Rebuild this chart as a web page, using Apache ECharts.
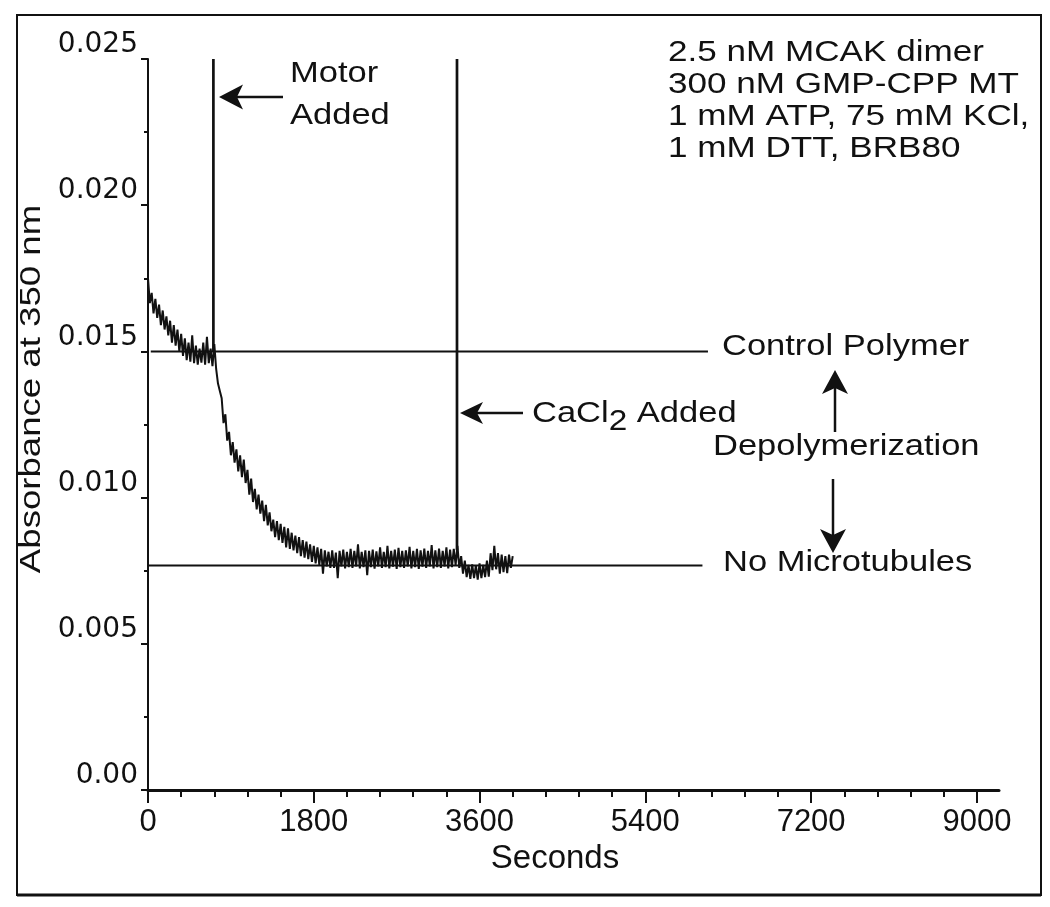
<!DOCTYPE html>
<html><head><meta charset="utf-8">
<script src="https://cdn.jsdelivr.net/npm/echarts@6/dist/echarts.min.js"></script>
<style>html,body{margin:0;padding:0;background:#fff}#c{width:1050px;height:907px}</style>
</head><body><div id="c"></div>
<script>
// ---- data ----
const times = [0,20,40,60,80,100,120,140,160,180,200,220,240,260,280,300,320,340,360,380,400,420,440,460,480,500,520,540,560,580,600,620,640,660,680,700,720,740,760,780,800,820,840,860,880,900,920,940,960,980,1000,1020,1040,1060,1080,1100,1120,1140,1160,1180,1200,1220,1240,1260,1280,1300,1320,1340,1360,1380,1400,1420,1440,1460,1480,1500,1520,1540,1560,1580,1600,1620,1640,1660,1680,1700,1720,1740,1760,1780,1800,1820,1840,1860,1880,1900,1920,1940,1960,1980,2000,2020,2040,2060,2080,2100,2120,2140,2160,2180,2200,2220,2240,2260,2280,2300,2320,2340,2360,2380,2400,2420,2440,2460,2480,2500,2520,2540,2560,2580,2600,2620,2640,2660,2680,2700,2720,2740,2760,2780,2800,2820,2840,2860,2880,2900,2920,2940,2960,2980,3000,3020,3040,3060,3080,3100,3120,3140,3160,3180,3200,3220,3240,3260,3280,3300,3320,3340,3360,3380,3400,3420,3440,3460,3480,3500,3520,3540,3560,3580,3600,3620,3640,3660,3680,3700,3720,3740,3760,3780,3800,3820,3840,3860,3880,3900,3920,3940,3960];
const absorbance = [
0.01750,0.01665,0.01700,0.01630,0.01680,0.01615,0.01660,0.01590,0.01640,0.01575,
0.01620,0.01555,0.01605,0.01530,0.01590,0.01520,0.01575,0.01500,0.01560,0.01485,
0.01545,0.01470,0.01530,0.01465,0.01555,0.01460,0.01520,0.01455,0.01510,0.01462,
0.01530,0.01455,0.01550,0.01460,0.01510,0.01450,0.01525,0.01440,0.01390,0.01365,
0.01340,0.01255,0.01285,0.01195,0.01225,0.01145,0.01190,0.01120,0.01165,0.01090,
0.01145,0.01070,0.01130,0.01050,0.01095,0.01010,0.01065,0.00985,0.01030,0.00960,
0.01010,0.00945,0.00990,0.00920,0.00975,0.00905,0.00950,0.00885,0.00925,0.00865,
0.00920,0.00855,0.00910,0.00845,0.00900,0.00830,0.00895,0.00825,0.00880,0.00820,
0.00870,0.00810,0.00865,0.00800,0.00855,0.00795,0.00850,0.00790,0.00840,0.00780,
0.00835,0.00775,0.00830,0.00770,0.00825,0.00740,0.00820,0.00765,0.00815,0.00760,
0.00820,0.00760,0.00812,0.00725,0.00818,0.00765,0.00822,0.00758,0.00815,0.00762,
0.00825,0.00760,0.00818,0.00765,0.00840,0.00758,0.00815,0.00762,0.00820,0.00735,
0.00818,0.00762,0.00822,0.00757,0.00816,0.00765,0.00830,0.00760,0.00815,0.00762,
0.00835,0.00758,0.00818,0.00764,0.00822,0.00756,0.00828,0.00762,0.00818,0.00760,
0.00820,0.00765,0.00832,0.00758,0.00818,0.00762,0.00825,0.00756,0.00820,0.00764,
0.00826,0.00760,0.00818,0.00765,0.00838,0.00758,0.00820,0.00762,0.00826,0.00760,
0.00818,0.00765,0.00830,0.00758,0.00822,0.00762,0.00825,0.00770,0.00835,0.00760,
0.00800,0.00740,0.00785,0.00728,0.00770,0.00722,0.00772,0.00725,0.00768,0.00720,
0.00775,0.00725,0.00770,0.00728,0.00785,0.00730,0.00810,0.00752,0.00835,0.00755,
0.00810,0.00740,0.00805,0.00745,0.00800,0.00742,0.00805,0.00760,0.00800];
const controlPolymerLine = [[30, 0.0150], [6080, 0.0150]];
const noMicrotubulesLine = [[0, 0.00768], [6020, 0.00768]];
const motorAddedLine = [[710, 0.025], [710, 0.0150]];
const cacl2AddedLine = [[3355, 0.025], [3355, 0.0082]];
const xMajorTicks = [0, 1800, 3600, 5400, 7200, 9000];
const xMinorTicks = [360,720,1080,1440,2160,2520,2880,3240,3960,4320,4680,5040,5760,6120,6480,6840,7560,7920,8280,8640];
const yMajorTicks = [0, 0.005, 0.010, 0.015, 0.020, 0.025];
const yMinorTicks = [0.0025, 0.0075, 0.0125, 0.0175, 0.0225];
const conditionLines = ['2.5 nM MCAK dimer', '300 nM GMP-CPP MT', '1 mM ATP, 75 mM KCl,', '1 mM DTT, BRB80'];

// ---- chart ----
const INK = '#111';
const FONT = '"Liberation Sans", Arial, Helvetica, sans-serif';
const chart = echarts.init(document.getElementById('c'), null, {renderer: 'canvas'});
const trace = times.map((t, i) => [t, absorbance[i]]);
const tickStyle = {color: INK, width: 2};

function txt(text, x, y, size, sx, extra) {
  return Object.assign({type: 'text', x: x, y: y, scaleX: sx, z: 100,
    style: {text: text, fill: INK, fontFamily: FONT, fontSize: size, align: 'left', verticalAlign: 'middle'}}, extra || {});
}
function arrow(tip, back, notch, half, dir, tail) {
  let pts, shaft;
  if (dir === 'left') {
    pts = [[tip[0], tip[1]], [tip[0] + back, tip[1] - half], [tip[0] + notch, tip[1]], [tip[0] + back, tip[1] + half]];
    shaft = [[tip[0] + notch, tip[1]], [tail, tip[1]]];
  } else if (dir === 'up') {
    pts = [[tip[0], tip[1]], [tip[0] - half, tip[1] + back], [tip[0], tip[1] + notch], [tip[0] + half, tip[1] + back]];
    shaft = [[tip[0], tip[1] + notch], [tip[0], tail]];
  } else {
    pts = [[tip[0], tip[1]], [tip[0] - half, tip[1] - back], [tip[0], tip[1] - notch], [tip[0] + half, tip[1] - back]];
    shaft = [[tip[0], tip[1] - notch], [tip[0], tail]];
  }
  return [
    {type: 'polyline', z: 100, shape: {points: shaft}, style: {stroke: INK, lineWidth: 2.5}},
    {type: 'polygon', z: 100, shape: {points: pts}, style: {fill: INK}}
  ];
}

const graphics = [
  {type: 'rect', z: 0, shape: {x: 17, y: 15, width: 1024, height: 880}, style: {fill: 'none', stroke: INK, lineWidth: 2}},
  {type: 'line', z: 0, shape: {x1: 17, y1: 895, x2: 1041, y2: 895}, style: {stroke: INK, lineWidth: 3}},
  txt('Absorbance at 350 nm', 32, 389, 30, 1.22, {rotation: Math.PI / 2,
    style: {text: 'Absorbance at 350 nm', fill: INK, fontFamily: FONT, fontSize: 30, align: 'center', verticalAlign: 'middle'}}),
  txt('Motor', 290, 74, 30, 1.15),
  txt('Added', 290, 116, 30, 1.15),
  {type: 'text', x: 532, y: 414, scaleX: 1.15, z: 100,
    style: {text: 'CaCl{s|2} Added', fill: INK, fontFamily: FONT, fontSize: 30, align: 'left', verticalAlign: 'middle',
      rich: {s: {fill: INK, fontFamily: FONT, fontSize: 29, padding: [16, 0, 0, 0]}}}},
  txt('Control Polymer', 722, 347, 30, 1.15),
  txt('Depolymerization', 713, 447, 30, 1.15),
  txt('No Microtubules', 723, 563, 30, 1.15)
].concat(conditionLines.map((s, i) => txt(s, 668, 53 + i * 32, 29, 1.21)))
 .concat(arrow([219, 97], 24, 18, 12.5, 'left', 283))
 .concat(arrow([460, 413], 23, 17, 11, 'left', 523))
 .concat(arrow([835, 370], 24, 18, 13, 'up', 432))
 .concat(arrow([833, 553], 24, 18, 13, 'down', 479));

const refLine = (name, data, w) => ({type: 'line', name: name, data: data, showSymbol: false, silent: true,
  lineStyle: {color: INK, width: w}, z: 3});

chart.setOption({
  animation: false,
  backgroundColor: '#fff',
  grid: {left: 148, top: 59, width: 851, height: 734, containLabel: false},
  xAxis: [
    {type: 'value', min: 0, max: 9240, position: 'bottom', splitLine: {show: false},
      axisLine: {lineStyle: {color: INK, width: 3}},
      axisTick: {customValues: xMajorTicks, length: 13, lineStyle: tickStyle},
      axisLabel: {customValues: xMajorTicks, color: INK, fontFamily: FONT, fontSize: 31, margin: 14,
        formatter: v => String(v)},
      name: 'Seconds', nameLocation: 'middle', nameGap: 44,
      nameTextStyle: {color: INK, fontFamily: FONT, fontSize: 33, padding: [0, 37, 0, 0]}},
    {type: 'value', min: 0, max: 9240, position: 'bottom', splitLine: {show: false},
      axisLine: {show: false}, axisLabel: {show: false},
      axisTick: {customValues: xMinorTicks, length: 7, lineStyle: tickStyle}}
  ],
  yAxis: [
    {type: 'value', min: -0.0001, max: 0.025, position: 'left', splitLine: {show: false},
      axisLine: {lineStyle: {color: INK, width: 2}},
      axisTick: {customValues: yMajorTicks, length: 7, lineStyle: tickStyle},
      axisLabel: {customValues: yMajorTicks, color: INK, fontFamily: '"DejaVu Sans", sans-serif', fontSize: 28,
        margin: 10, verticalAlign: 'bottom',
        formatter: v => (Math.abs(v) < 1e-9 ? '0.00' : v.toFixed(3))}},
    {type: 'value', min: -0.0001, max: 0.025, position: 'left', splitLine: {show: false},
      axisLine: {show: false}, axisLabel: {show: false},
      axisTick: {customValues: yMinorTicks, length: 4, lineStyle: tickStyle}}
  ],
  series: [
    {type: 'line', name: 'Absorbance', data: trace, showSymbol: false, lineStyle: {color: INK, width: 2}, z: 4},
    refLine('Control Polymer', controlPolymerLine, 2),
    refLine('No Microtubules', noMicrotubulesLine, 2),
    refLine('Motor Added', motorAddedLine, 2.7),
    refLine('CaCl2 Added', cacl2AddedLine, 2.7)
  ],
  graphic: graphics
});
</script></body></html>
